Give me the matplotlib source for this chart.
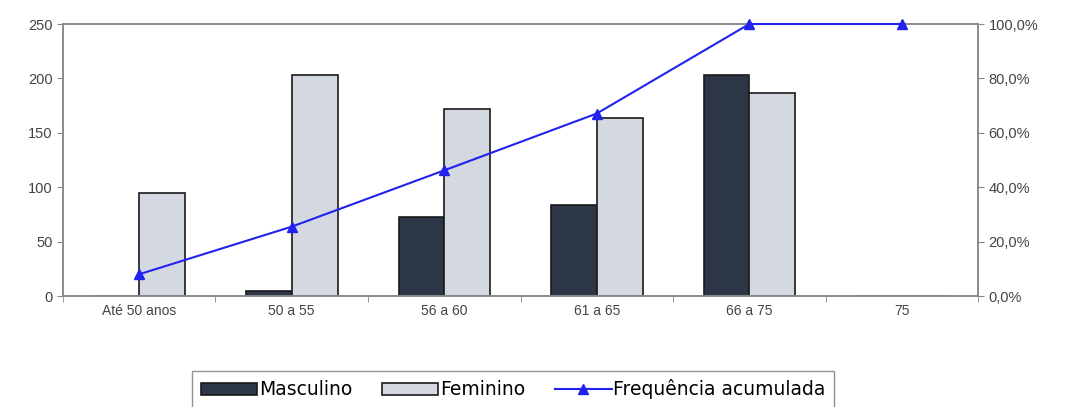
import numpy as np
import matplotlib.pyplot as plt
import matplotlib.ticker as mticker

categorias = ['Até 50 anos', '50 a 55', '56 a 60', '61 a 65', '66 a 75', '75']
masculino = [0, 5, 73, 84, 203, 0]
feminino = [95, 203, 172, 164, 187, 0]
freq_acumulada = [8.0, 25.5, 46.2, 67.1, 100.0, 100.0]

plt.rcParams['font.family'] = ['Liberation Sans', 'DejaVu Sans']

fig = plt.figure(figsize=(10.67, 4.07), dpi=100)
ax = fig.add_axes([0.059, 0.2727, 0.8577, 0.6683])
x = np.arange(len(categorias))
w = 0.3

b1 = ax.bar(x - w / 2, masculino, w, color='#2c3646', edgecolor='#1a1a1a', linewidth=1.2, label='Masculino')
b2 = ax.bar(x + w / 2, feminino, w, color='#d4d9e1', edgecolor='#1a1a1a', linewidth=1.2, label='Feminino')

ax.set_xlim(-0.5, len(categorias) - 0.5)
ax.set_ylim(0, 250)
ax.set_yticks(range(0, 251, 50))
ax.set_xticks(x)
ax.set_xticklabels(categorias)
ax.set_xticks(np.arange(-0.5, len(categorias), 1), minor=True)
ax.tick_params(axis='x', which='major', length=0, pad=6, labelsize=10, colors='#444444')
ax.tick_params(axis='x', which='minor', length=4, color='#888888')
ax.tick_params(axis='y', length=4, labelsize=10.5, colors='#444444', color='#888888')
for s in ax.spines.values():
    s.set_color('#8a8a8a')
    s.set_linewidth(1.2)

# eixo secundário: frequência acumulada em %
ax2 = ax.twinx()
ln, = ax2.plot(x, freq_acumulada, color='#2222ee', linewidth=1.5, marker='^', markersize=7,
               label='Frequência acumulada', clip_on=False, zorder=5)
ax2.set_ylim(0, 100)
ax2.set_yticks(range(0, 101, 20))
ax2.yaxis.set_major_formatter(mticker.FuncFormatter(lambda v, p: f'{v:.1f}%'.replace('.', ',')))
ax2.tick_params(axis='y', length=4, labelsize=10.5, colors='#444444', color='#888888')
for s in ax2.spines.values():
    s.set_color('#8a8a8a')
    s.set_linewidth(1.2)

leg = fig.legend(handles=[b1, b2, ln], loc='upper center', bbox_to_anchor=(0.481, 0.112), ncol=3,
                 frameon=True, fancybox=False, prop={'family': 'DejaVu Sans', 'size': 13.5},
                 handlelength=3.0, handleheight=0.6, handletextpad=0.1,
                 columnspacing=1.6, borderpad=0.45)
leg.get_frame().set_edgecolor('#777777')
leg.get_frame().set_linewidth(1.0)

fig.savefig('out.png', dpi=100)
